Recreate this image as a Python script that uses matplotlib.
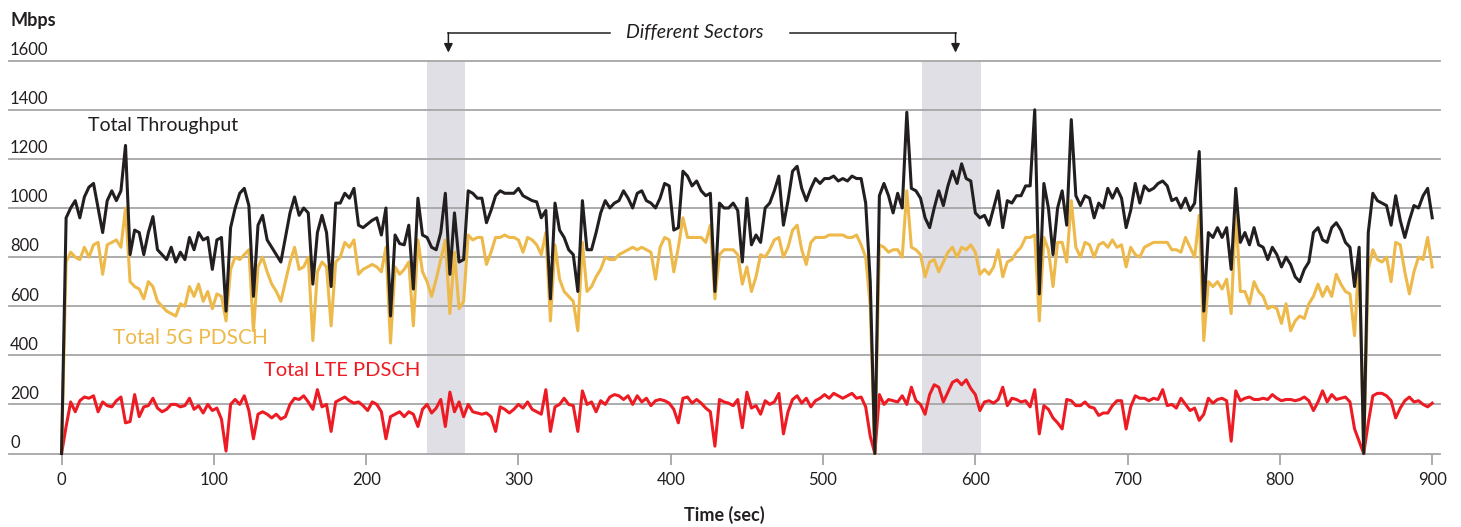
import matplotlib
matplotlib.use('Agg')
import matplotlib.pyplot as plt
import numpy as np

plt.rcParams['font.family'] = ['Lato', 'DejaVu Sans']

# seconds, one reading every 3 s
time = np.arange(0, 901, 3)

total = [0, 960, 1000, 1030, 960, 1045, 1085, 1100, 1000, 900,
         1030, 1070, 1030, 1070, 1255, 810, 910, 900, 810, 900,
         965, 830, 810, 790, 840, 780, 820, 790, 880, 830,
         900, 870, 880, 750, 870, 880, 580, 920, 1000, 1060,
         1080, 1010, 640, 930, 970, 870, 840, 810, 780, 880,
         980, 1045, 970, 1000, 980, 690, 900, 970, 900, 680,
         1020, 1020, 1060, 1040, 1080, 930, 920, 935, 950, 960,
         890, 1000, 560, 890, 855, 850, 930, 670, 1040, 890,
         880, 840, 830, 900, 1060, 730, 980, 780, 790, 1070,
         1060, 1040, 1040, 940, 990, 1050, 1070, 1060, 1060, 1060,
         1080, 1050, 1040, 1030, 1025, 960, 990, 630, 1020, 910,
         880, 830, 810, 660, 1030, 830, 830, 900, 980, 1030,
         1000, 1020, 1030, 1070, 1040, 1000, 1060, 1070, 1030, 1020,
         1000, 1040, 1100, 1090, 910, 920, 1150, 1130, 1090, 1110,
         1070, 1050, 1060, 660, 1020, 1000, 1000, 1020, 990, 780,
         1040, 850, 890, 860, 1000, 1020, 1070, 1130, 930, 1030,
         1150, 1170, 1080, 1030, 1080, 1120, 1100, 1120, 1120, 1130,
         1110, 1120, 1110, 1130, 1120, 1120, 1020, 700, 0, 1050,
         1100, 1050, 980, 1060, 1000, 1390, 1080, 1070, 1040, 960,
         920, 1000, 1070, 1010, 1090, 1150, 1100, 1180, 1120, 1110,
         980, 960, 970, 930, 1000, 1070, 920, 1030, 1020, 1050,
         1050, 1090, 1090, 1400, 650, 1100, 1000, 810, 1000, 1070,
         930, 1360, 1050, 1010, 1050, 1040, 960, 1020, 1000, 1080,
         1040, 1080, 1040, 920, 990, 1100, 1020, 1090, 1070, 1080,
         1100, 1110, 1090, 1030, 1040, 1000, 1040, 990, 1020, 1230,
         580, 900, 880, 920, 880, 920, 750, 1080, 860, 900,
         850, 920, 850, 840, 790, 840, 810, 760, 800, 770,
         720, 700, 750, 780, 900, 920, 870, 860, 920, 940,
         910, 860, 840, 680, 840, 0, 900, 1060, 1030, 1020,
         1010, 930, 1050, 950, 880, 950, 1010, 1000, 1050, 1080,
         960]

nr_5g = [0, 780, 820, 800, 790, 840, 800, 850, 860, 730,
         850, 860, 870, 840, 1000, 700, 680, 670, 630, 700,
         680, 620, 600, 580, 570, 560, 610, 600, 680, 640,
         690, 620, 660, 590, 650, 640, 540, 750, 800, 790,
         810, 830, 500, 760, 800, 740, 690, 660, 620, 700,
         780, 840, 750, 760, 800, 460, 740, 780, 760, 520,
         780, 800, 860, 840, 870, 730, 750, 760, 770, 760,
         740, 840, 450, 760, 730, 750, 780, 520, 870, 740,
         700, 640, 710, 790, 870, 570, 820, 590, 620, 890,
         870, 880, 880, 770, 820, 880, 880, 890, 880, 880,
         870, 820, 880, 870, 850, 810, 900, 540, 850, 710,
         660, 640, 620, 500, 860, 660, 680, 720, 750, 800,
         790, 790, 810, 820, 830, 840, 830, 840, 830, 820,
         710, 840, 880, 870, 740, 840, 960, 880, 880, 880,
         880, 860, 930, 630, 810, 830, 830, 830, 810, 690,
         760, 660, 720, 810, 800, 830, 870, 880, 800, 840,
         910, 930, 830, 770, 860, 880, 880, 880, 890, 890,
         890, 890, 880, 880, 890, 850, 800, 600, 0, 850,
         840, 820, 830, 830, 800, 1070, 840, 830, 810, 720,
         780, 790, 740, 780, 820, 840, 800, 840, 830, 850,
         820, 730, 750, 730, 760, 830, 720, 780, 790, 820,
         840, 880, 880, 890, 540, 880, 830, 680, 860, 860,
         780, 1030, 840, 800, 860, 850, 800, 850, 860, 840,
         870, 840, 850, 760, 840, 810, 800, 840, 850, 860,
         860, 860, 860, 830, 830, 820, 880, 840, 800, 970,
         460, 700, 680, 700, 670, 710, 570, 990, 660, 660,
         610, 700, 660, 640, 590, 600, 590, 530, 610, 500,
         540, 560, 550, 610, 640, 690, 640, 680, 640, 730,
         690, 660, 650, 480, 810, 0, 750, 830, 790, 780,
         800, 700, 860, 850, 740, 650, 740, 800, 790, 880,
         760]

lte = [0, 110, 210, 170, 215, 230, 225, 235, 170, 210,
       195, 190, 215, 230, 125, 130, 240, 150, 190, 195,
       225, 185, 170, 180, 200, 200, 190, 195, 225, 180,
       195, 165, 200, 175, 185, 140, 10, 200, 220, 200,
       235, 175, 60, 160, 170, 160, 145, 160, 140, 150,
       200, 225, 220, 235, 210, 180, 260, 190, 200, 90,
       210, 220, 230, 215, 205, 210, 195, 175, 210, 200,
       170, 60, 150, 160, 170, 150, 170, 160, 110, 180,
       200, 165, 185, 220, 110, 250, 170, 210, 150, 200,
       170, 165, 160, 165, 150, 90, 190, 180, 165, 180,
       200, 185, 210, 180, 170, 160, 260, 90, 190, 200,
       225, 200, 195, 90, 255, 200, 210, 170, 215, 200,
       230, 240, 235, 220, 235, 200, 235, 210, 225, 195,
       215, 220, 215, 205, 180, 125, 225, 230, 205, 220,
       205, 185, 170, 30, 220, 210, 205, 195, 220, 105,
       250, 185, 195, 160, 215, 200, 210, 245, 80, 170,
       220, 235, 205, 225, 190, 215, 225, 240, 225, 245,
       235, 225, 235, 245, 225, 230, 190, 70, 0, 240,
       200, 220, 215, 210, 235, 200, 270, 215, 200, 160,
       240, 280, 270, 210, 250, 290, 300, 280, 300, 265,
       240, 175, 210, 215, 205, 220, 270, 195, 225, 220,
       210, 215, 190, 260, 80, 195, 180, 145, 125, 100,
       220, 215, 195, 195, 210, 190, 185, 155, 165, 165,
       195, 215, 215, 100, 190, 235, 225, 225, 215, 225,
       220, 260, 195, 200, 185, 225, 200, 175, 185, 135,
       160, 225, 205, 220, 225, 215, 50, 255, 215, 225,
       230, 220, 220, 225, 220, 240, 225, 215, 220, 220,
       215, 220, 230, 215, 175, 210, 255, 210, 240, 220,
       225, 230, 210, 100, 50, 0, 125, 235, 245, 245,
       235, 215, 145, 185, 215, 230, 210, 215, 200, 190,
       205]

sectors = [(240, 265), (565, 604)]
yticks = [0, 200, 400, 600, 800, 1000, 1200, 1400, 1600]
xticks = [0, 100, 200, 300, 400, 500, 600, 700, 800, 900]

black = '#231f20'
yellow = '#edb94a'
red = '#ed1c24'
grid = '#a6a6a6'

fig = plt.figure(figsize=(14.61, 5.27), dpi=100)
ax = fig.add_axes([9 / 1461, 73.5 / 527, 1431 / 1461, 392.8 / 527])
ax.set_xlim(-34.5, 905.1)
ax.set_ylim(0, 1600)

for a, b in sectors:
    ax.axvspan(a, b, color='#dfdfe5', zorder=0, lw=0)
for v in yticks:
    ax.axhline(v, color=grid, lw=1.3, zorder=1, clip_on=False)
    ax.text(-33.8, v + 23, str(v), fontsize=12, color=black, va='baseline', ha='left')

ax.plot(time, lte, color=red, lw=2.2, zorder=3, clip_on=False)
ax.plot(time, nr_5g, color=yellow, lw=2.2, zorder=4, clip_on=False)
ax.plot(time, total, color=black, lw=2.2, zorder=5, clip_on=False)

ax.text(17.4, 1313, 'Total Throughput', fontsize=14, color=black)
ax.text(33.8, 446, 'Total 5G PDSCH', fontsize=15, color=yellow)
ax.text(133, 316, 'Total LTE PDSCH', fontsize=14.5, color=red)

# sector annotation above the plot
ax.plot([254, 360], [1713, 1713], color=black, lw=1.1, clip_on=False)
ax.plot([478, 587], [1713, 1713], color=black, lw=1.1, clip_on=False)
for xa in [254, 587]:
    ax.annotate('', xy=(xa, 1633), xytext=(xa, 1714), annotation_clip=False,
                arrowprops=dict(arrowstyle='-|>', color=black, lw=1.1, mutation_scale=13,
                                shrinkA=0, shrinkB=0))
ax.text(416, 1713, 'Different Sectors', fontsize=14, style='italic', color=black,
        ha='center', va='center')

ax.text(-33.8, 1741, 'Mbps', fontsize=13, fontweight='bold', color=black, va='baseline')

ax.set_xticks(xticks)
ax.set_yticks([])
ax.tick_params(axis='x', length=8, width=1.3, color=grid, labelsize=12, labelcolor=black, pad=5)
for s in ax.spines.values():
    s.set_visible(False)
ax.set_xlabel('Time (sec)', fontsize=13, fontweight='bold', color=black, labelpad=13)

plt.savefig('out.png', dpi=100)
